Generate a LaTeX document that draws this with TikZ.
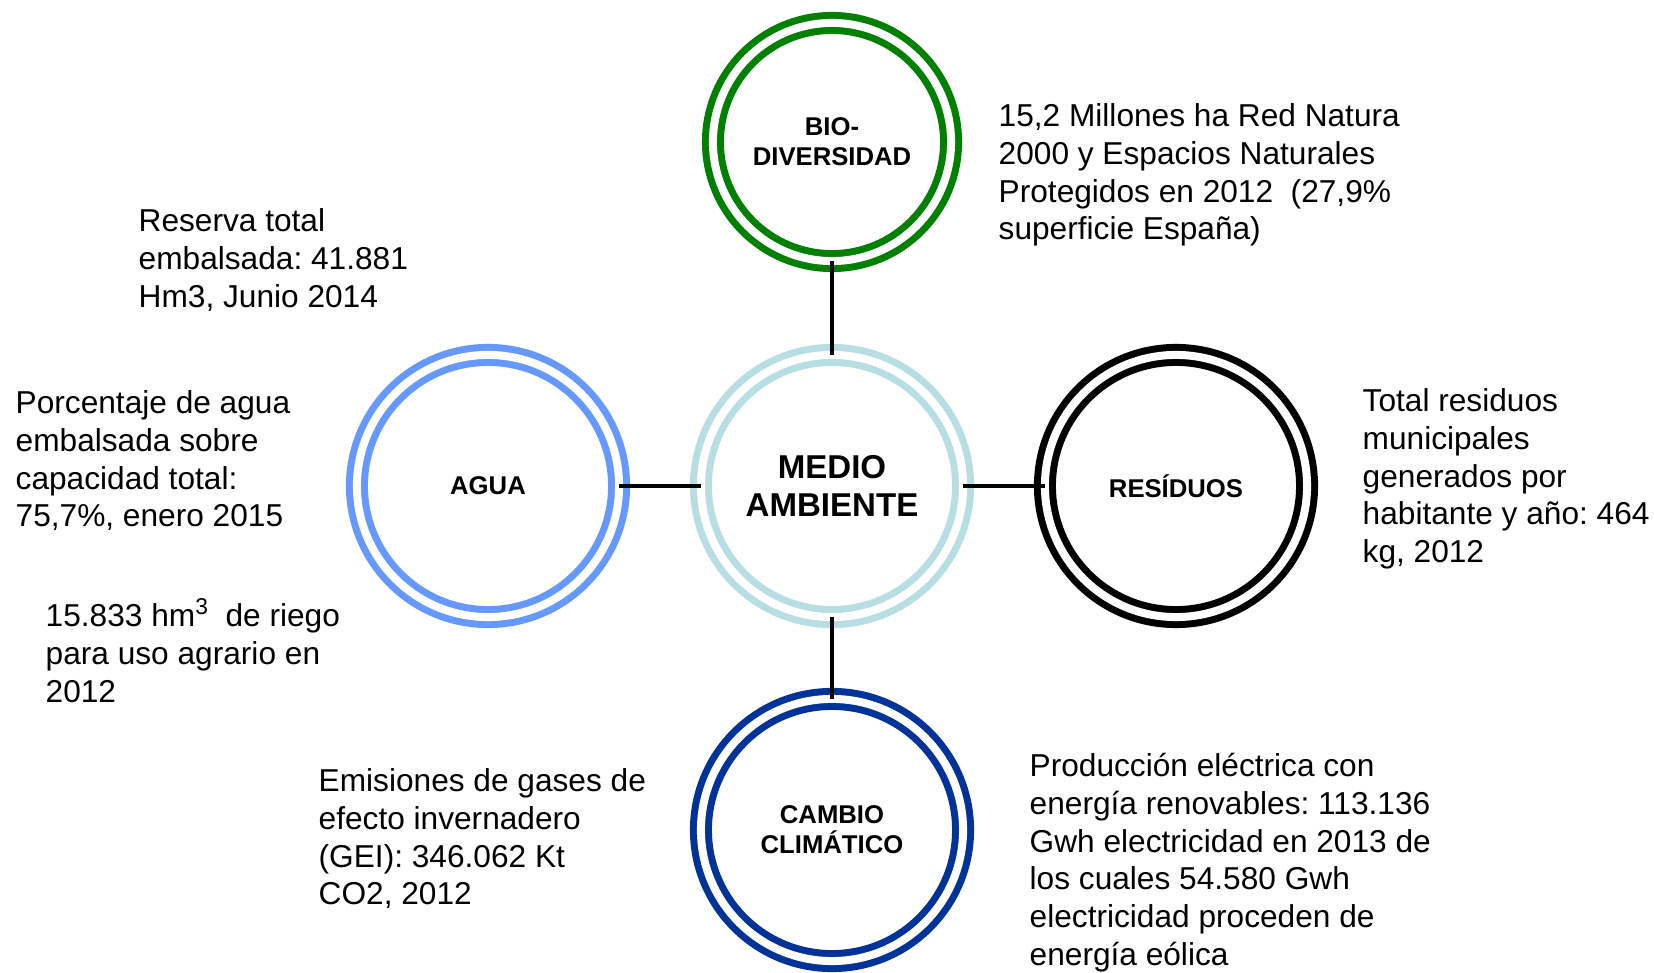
\documentclass[tikz,border=0pt]{standalone}
\usepackage{fontspec}
\setmainfont{Liberation Sans}
\frenchspacing

\definecolor{biogreen}{RGB}{0,128,0}
\definecolor{medioteal}{RGB}{183,222,227}
\definecolor{aguablue}{RGB}{102,153,255}
\definecolor{climablue}{RGB}{0,51,153}

\begin{document}
\begin{tikzpicture}[x=0.01cm, y=-0.01cm,
    ring/.style={draw, circle, fill=white, line width=\ringthic, double=white, double distance=\ringgap,
        minimum size=\circlesize, inner sep=0pt, outer sep=0pt, align=center,
        font=\bfseries\fontsize{7.3}{8.5}\selectfont},
    info/.style={anchor=base west, inner sep=0pt, align=left, font=\fontsize{9}{10.7}\selectfont},
    link/.style={line width=\linethic}]
    %--------------------%
    % Parameters
    %--------------------%
    \def\cx{832}
    \def\cy{486}
    \def\hsep{344}
    \def\vsep{344}
    \def\circlesize{2.62cm}
    \def\ringthic{0.07cm}
    \def\ringgap{0.08cm}
    \def\linethic{0.045cm}
    \def\lsep{37.6} % baseline to baseline, anchor is the last line

    \useasboundingbox (0,0) rectangle (1654,973);

    %--------------------%
    % Circles
    %--------------------%
    \node[ring, draw=medioteal, font=\bfseries\fontsize{9.4}{10.8}\selectfont] (medio) at (\cx,\cy) {MEDIO\\AMBIENTE};
    \node[ring, draw=biogreen, minimum size=2.38cm] (bio) at (\cx,\cy-\vsep) {BIO-\\DIVERSIDAD};
    \node[ring, draw=aguablue] (agua) at (\cx-\hsep,\cy) {AGUA};
    \node[ring, draw=black] (residuos) at (\cx+\hsep,\cy) {RESÍDUOS};
    \node[ring, draw=climablue] (cambio) at (\cx,\cy+\vsep) {CAMBIO\\CLIMÁTICO};

    %--------------------%
    % Connections
    %--------------------%
    \draw[link] (bio.south) -- (medio.north);
    \draw[link] (agua.east) -- (medio.west);
    \draw[link] (medio.east) -- (residuos.west);
    \draw[link] (medio.south) -- (cambio.north);

    %--------------------%
    % Data
    %--------------------%
    \node[info] (tbio) at (998,127+3*\lsep) {15,2 Millones ha Red Natura\\2000 y Espacios Naturales\\Protegidos en 2012\ \ (27,9\%\\superficie España)};
    \node[info] (treserva) at (138,232+2*\lsep) {Reserva total\\embalsada: 41.881\\Hm3, Junio 2014};
    \node[info] (tporcentaje) at (15,414+3*\lsep) {Porcentaje de agua\\embalsada sobre\\capacidad total:\\75,7\%, enero 2015};
    \node[info] (triego) at (45,627+2*\lsep) {15.833 hm\raisebox{0.4em}{\fontsize{6.5}{6.5}\selectfont 3}\ \ de riego\\para uso agrario en\\2012};
    \node[info] (tresiduos) at (1362,412+4*\lsep) {Total residuos\\municipales\\generados por\\habitante y año: 464\\kg, 2012};
    \node[info] (temisiones) at (318,792+3*\lsep) {Emisiones de gases de\\efecto invernadero\\(GEI): 346.062 Kt\\CO2, 2012};
    \node[info] (tproduccion) at (1029,777+5*\lsep) {Producción eléctrica con\\energía renovables: 113.136\\Gwh electricidad en 2013 de\\los cuales 54.580 Gwh\\electricidad proceden de\\energía eólica};

\end{tikzpicture}
\end{document}
